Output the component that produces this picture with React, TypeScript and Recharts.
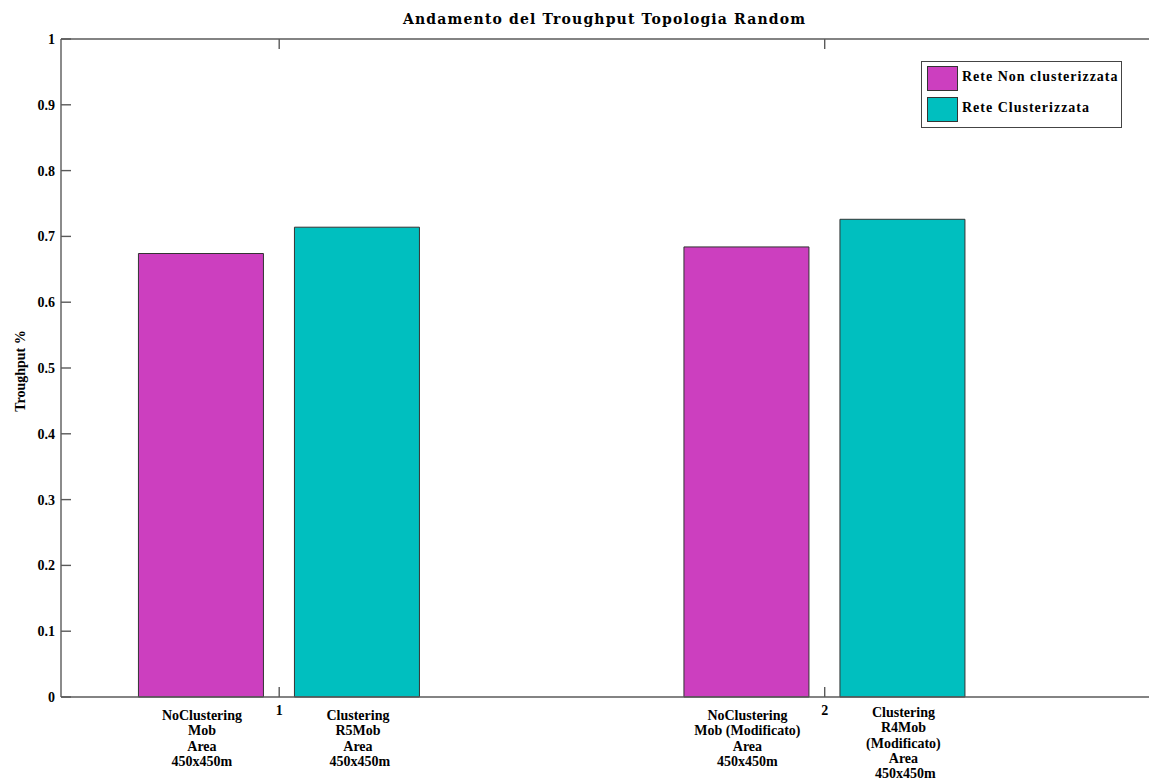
import React from 'react';
import { BarChart, Bar, XAxis, YAxis, Legend, LabelList } from 'recharts';

const categories = [1, 2];
const nonClustered = [0.674, 0.684];
const clustered = [0.714, 0.726];
const yTicks = [0, 0.1, 0.2, 0.3, 0.4, 0.5, 0.6, 0.7, 0.8, 0.9, 1];
const xTicks = [1, 2];
const nonClusteredLabels = [
  ['NoClustering', 'Mob', 'Area', '450x450m'],
  ['NoClustering', 'Mob (Modificato)', 'Area', '450x450m'],
];
const clusteredLabels = [
  ['Clustering', 'R5Mob', 'Area', '450x450m'],
  ['Clustering', 'R4Mob', '(Modificato)', 'Area', '450x450m'],
];
const seriesNames = ['Rete Non clusterizzata', 'Rete Clusterizzata'];
const titleText = 'Andamento del Troughput Topologia Random';
const yLabelText = 'Troughput %';

const data = categories.map((c, i) => ({ x: c, non: nonClustered[i], clu: clustered[i] }));

const MAGENTA = '#CC3FBF';
const CYAN = '#00BFBF';
const AXIS = '#5a5a5a';
const SERIF = '"Liberation Serif", "Times New Roman", serif';
const TICK_LEN = 10;

const LeftTick = (props: any) => {
  const { x, y, payload } = props;
  const ax = x + 6;
  return (
    <g>
      <line x1={ax} x2={ax + TICK_LEN} y1={y} y2={y} stroke={AXIS} strokeWidth={1.4} />
      <text x={ax - 6} y={y} dy="0.36em" textAnchor="end" fontFamily={SERIF} fontWeight="bold" fontSize={14} fill="#000">
        {String(payload.value)}
      </text>
    </g>
  );
};

const RightTick = (props: any) => {
  const { x, y } = props;
  return <line x1={x - TICK_LEN} x2={x} y1={y} y2={y} stroke={AXIS} strokeWidth={1.4} />;
};

const BottomTick = (props: any) => {
  const { x, y, payload } = props;
  return (
    <g>
      <line x1={x} x2={x} y1={y - TICK_LEN} y2={y} stroke={AXIS} strokeWidth={1.4} />
      <text x={x} y={y + 18} textAnchor="middle" fontFamily={SERIF} fontWeight="bold" fontSize={14} fill="#000">
        {String(payload.value)}
      </text>
    </g>
  );
};

const TopTick = (props: any) => {
  const { x, y } = props;
  return <line x1={x} x2={x} y1={y} y2={y + TICK_LEN} stroke={AXIS} strokeWidth={1.4} />;
};

const makeBarLabels = (labels: string[][], shiftLast: number) => (props: any) => {
  const vb = props.viewBox || props;
  const bx = Number(vb.x);
  const by = Number(vb.y);
  const bw = Number(vb.width);
  const bh = Number(vb.height);
  const lines = labels[props.index] || [];
  const cx = bx + bw / 2 + 1;
  const bottom = by + bh;
  const start = lines.length > 4 ? 20 : 23;
  return (
    <g>
      {lines.map((t, i) => (
        <text
          key={i}
          x={cx + (i === lines.length - 1 ? shiftLast : 0)}
          y={bottom + start + i * 15.3}
          textAnchor="middle"
          fontFamily={SERIF}
          fontWeight="bold"
          fontSize={14}
          fill="#000"
        >
          {t}
        </text>
      ))}
    </g>
  );
};

const TitleLabel = (props: any) => {
  const vb = props.viewBox || { x: 61, y: 38, width: 1091, height: 1 };
  const cx = vb.x + vb.width / 2 - 2.5;
  return (
    <text x={cx} y={24} textAnchor="middle" fontFamily='"DejaVu Serif", serif' fontWeight="bold" fontSize={14} fill="#000" textLength={402} lengthAdjust="spacing">
      {titleText}
    </text>
  );
};

const YTitle = (props: any) => {
  const vb = props.viewBox || { x: 0, y: 39, width: 61, height: 658 };
  const cx = vb.x + 20;
  const cy = vb.y + vb.height / 2 + 3;
  return (
    <text x={cx} y={cy} transform={`rotate(-90 ${cx} ${cy})`} textAnchor="middle" dominantBaseline="central" fontFamily={SERIF} fontWeight="bold" fontSize={14} fill="#000">
      {yLabelText}
    </text>
  );
};

const LegendBox = (props: any) => {
  const payload = [...(props.payload || [])].sort(
    (a: any, b: any) => seriesNames.indexOf(a.value) - seriesNames.indexOf(b.value)
  );
  return (
    <div style={{ position: 'relative', width: 201, height: 67, boxSizing: 'border-box', border: '1px solid #444', background: '#fff' }}>
      {payload.map((p: any, i: number) => (
        <div key={i} style={{ position: 'absolute', left: 5, top: 4 + i * 31, height: 25, display: 'flex', alignItems: 'center' }}>
          <div style={{ width: 31, height: 25, boxSizing: 'border-box', background: p.color, border: '1px solid #333' }} />
          <span style={{ marginLeft: 4, fontFamily: SERIF, fontWeight: 'bold', fontSize: 14, letterSpacing: 1, color: '#000', whiteSpace: 'nowrap', marginTop: -4 }}>
            {p.value}
          </span>
        </div>
      ))}
    </div>
  );
};

export default function App() {
  return (
    <div style={{ position: 'absolute', left: 0, top: 0, width: 1149, height: 783, overflow: 'hidden', background: '#fff' }}>
      <BarChart
        width={1170}
        height={783}
        data={data}
        margin={{ top: 38, right: 8, bottom: 56, left: 0 }}
        barGap={31}
      >
        <XAxis
          xAxisId="bottom"
          type="number"
          dataKey="x"
          domain={[0.6, 2.6]}
          ticks={xTicks}
          interval={0}
          height={30}
          tickSize={0}
          tickMargin={0}
          tickLine={false}
          axisLine={{ stroke: AXIS, strokeWidth: 1.4 }}
          tick={<BottomTick />}
          allowDataOverflow
        />
        <XAxis
          xAxisId="top"
          orientation="top"
          type="number"
          dataKey="x"
          domain={[0.6, 2.6]}
          ticks={xTicks}
          interval={0}
          height={1}
          tickSize={0}
          tickMargin={0}
          tickLine={false}
          axisLine={{ stroke: AXIS, strokeWidth: 1.4 }}
          tick={<TopTick />}
          allowDataOverflow
          label={{ content: <TitleLabel /> }}
        />
        <YAxis
          yAxisId="left"
          type="number"
          domain={[0, 1]}
          ticks={yTicks}
          interval={0}
          width={61}
          tickSize={0}
          tickMargin={6}
          tickLine={false}
          axisLine={{ stroke: AXIS, strokeWidth: 1.4 }}
          tick={<LeftTick />}
          label={{ content: <YTitle /> }}
        />
        <YAxis
          yAxisId="right"
          orientation="right"
          type="number"
          domain={[0, 1]}
          ticks={yTicks}
          interval={0}
          width={10}
          tickSize={0}
          tickMargin={0}
          tickLine={false}
          axisLine={{ stroke: AXIS, strokeWidth: 1.4 }}
          tick={<RightTick />}
        />
        <Legend
          layout="vertical"
          align="center"
          verticalAlign="middle"
          wrapperStyle={{ left: 921, top: 61, width: 201, height: 67 }}
          content={<LegendBox />}
        />
        <Bar xAxisId="bottom" yAxisId="left" dataKey="non" name={seriesNames[0]} fill={MAGENTA} stroke="#333" strokeWidth={1} barSize={125} isAnimationActive={false}>
          <LabelList dataKey="non" content={makeBarLabels(nonClusteredLabels, 0)} />
        </Bar>
        <Bar xAxisId="bottom" yAxisId="left" dataKey="clu" name={seriesNames[1]} fill={CYAN} stroke="#333" strokeWidth={1} barSize={125} isAnimationActive={false}>
          <LabelList dataKey="clu" content={makeBarLabels(clusteredLabels, 2)} />
        </Bar>
      </BarChart>
    </div>
  );
}
